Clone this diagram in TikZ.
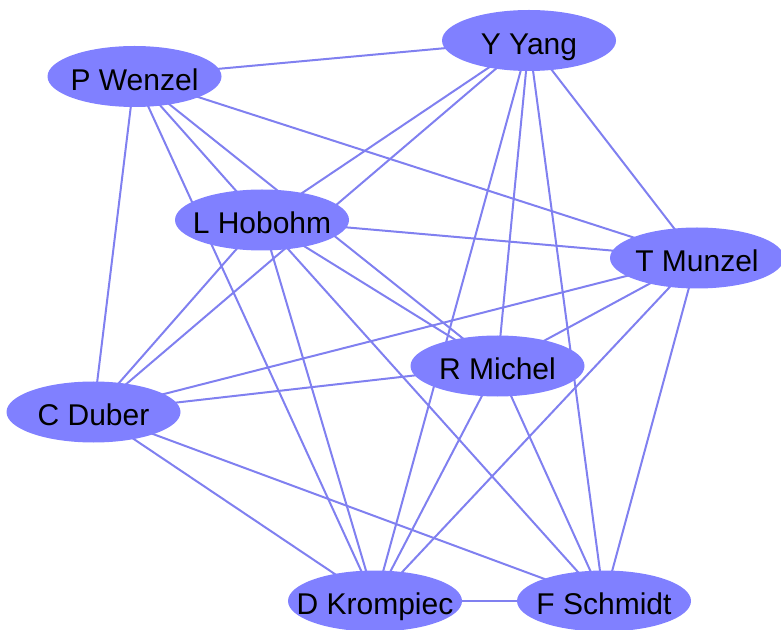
\documentclass[tikz,border=0pt]{standalone}
\usepackage{fontspec}
\setmainfont{Liberation Sans}
\usetikzlibrary{shapes.geometric,backgrounds}
\definecolor{nodefill}{RGB}{128,128,255}
\definecolor{edgecol}{RGB}{128,128,240}
\tikzset{
  person/.style={ellipse, fill=nodefill, draw=none, inner sep=0pt,
    minimum width=87pt, minimum height=30.5pt,
    label={[inner sep=0pt, text height=13.7pt, text depth=0pt,
      font=\fontsize{15pt}{18pt}\selectfont]center:#1}},
  link/.style={draw=edgecol, line width=1pt}
}
\begin{document}
\begin{tikzpicture}[x=0.5pt,y=-0.5pt]
\useasboundingbox (0,0) rectangle (781,630);
\node[person={P Wenzel}] (PW) at (134.5,76.5) {};
\node[person={Y Yang}] (YY) at (529,40.5) {};
\node[person={L Hobohm}] (LH) at (262,220) {};
\node[person={T Munzel}] (TM) at (697,258) {};
\node[person={R Michel}] (RM) at (497.5,366) {};
\node[person={C Duber}] (CD) at (93.5,412) {};
\node[person={D Krompiec}] (DK) at (375,601) {};
\node[person={F Schmidt}] (FS) at (604,601) {};
\begin{pgfonlayer}{background}
\foreach \a/\b in {PW/YY,PW/CD,PW/LH,PW/DK,PW/RM,PW/TM,
  YY/LH,YY/CD,YY/DK,YY/RM,YY/FS,YY/TM,
  LH/TM,LH/CD,LH/DK,LH/FS,LH/RM,
  TM/CD,TM/RM,TM/DK,TM/FS,
  RM/CD,RM/DK,RM/FS,
  CD/DK,CD/FS,
  DK/FS}
  \draw[link] (\a.center) -- (\b.center);
\end{pgfonlayer}
\end{tikzpicture}
\end{document}
